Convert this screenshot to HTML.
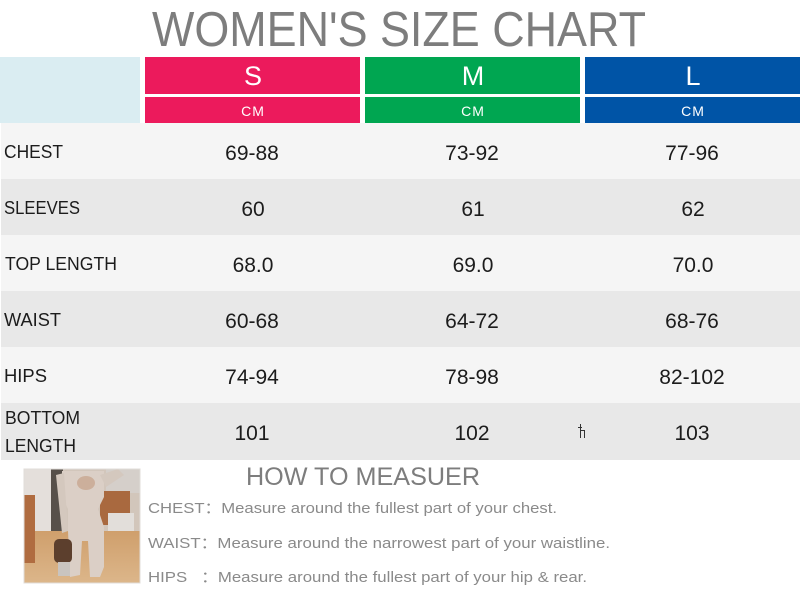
<!DOCTYPE html>
<html>
<head>
<meta charset="utf-8">
<style>
html,body{margin:0;padding:0;background:#fff;}
svg{display:block;}
text{font-family:"Liberation Sans","DejaVu Sans",sans-serif;}
</style>
</head>
<body>
<svg width="800" height="594" viewBox="0 0 800 594" xmlns="http://www.w3.org/2000/svg">
  <defs>
    <linearGradient id="floor" x1="0" y1="0" x2="0" y2="1">
      <stop offset="0" stop-color="#cf9f6c"/>
      <stop offset="1" stop-color="#dcb68a"/>
    </linearGradient>
  </defs>
  <rect x="0" y="0" width="800" height="594" fill="#ffffff"/>
  <!-- Title -->
  <text x="152" y="46" font-size="49" fill="#7d7d7d" textLength="494" lengthAdjust="spacingAndGlyphs">WOMEN'S SIZE CHART</text>

  <!-- Header -->
  <rect x="0" y="57" width="140" height="66" fill="#daedf2"/>
  <rect x="145" y="57" width="215" height="37" fill="#ec1a5c"/>
  <rect x="145" y="97" width="215" height="26" fill="#ec1a5c"/>
  <rect x="365" y="57" width="215" height="37" fill="#00a651"/>
  <rect x="365" y="97" width="215" height="26" fill="#00a651"/>
  <rect x="585" y="57" width="215" height="37" fill="#0054a6"/>
  <rect x="585" y="97" width="215" height="26" fill="#0054a6"/>
  <g fill="#ffffff" text-anchor="middle">
    <text x="253" y="85" font-size="27">S</text>
    <text x="473" y="85" font-size="27">M</text>
    <text x="693" y="85" font-size="27">L</text>
    <text x="253" y="116" font-size="14" letter-spacing="1">CM</text>
    <text x="473" y="116" font-size="14" letter-spacing="1">CM</text>
    <text x="693" y="116" font-size="14" letter-spacing="1">CM</text>
  </g>

  <!-- Rows -->
  <rect x="1" y="123" width="799" height="56" fill="#f5f5f5"/>
  <rect x="1" y="179" width="799" height="56" fill="#e8e8e8"/>
  <rect x="1" y="235" width="799" height="56" fill="#f5f5f5"/>
  <rect x="1" y="291" width="799" height="56" fill="#e8e8e8"/>
  <rect x="1" y="347" width="799" height="56" fill="#f5f5f5"/>
  <rect x="1" y="403" width="799" height="57" fill="#e8e8e8"/>

  <g fill="#1c1c1c" font-size="18">
    <text x="4" y="158" textLength="59" lengthAdjust="spacingAndGlyphs">CHEST</text>
    <text x="4" y="214" textLength="76" lengthAdjust="spacingAndGlyphs">SLEEVES</text>
    <text x="5" y="270" textLength="112" lengthAdjust="spacingAndGlyphs">TOP LENGTH</text>
    <text x="4" y="326" textLength="57" lengthAdjust="spacingAndGlyphs">WAIST</text>
    <text x="4" y="382" textLength="43" lengthAdjust="spacingAndGlyphs">HIPS</text>
    <text x="5" y="424" textLength="75" lengthAdjust="spacingAndGlyphs">BOTTOM</text>
    <text x="5" y="452" textLength="71" lengthAdjust="spacingAndGlyphs">LENGTH</text>
  </g>

  <g fill="#1c1c1c" font-size="21" text-anchor="middle">
    <text x="252" y="160">69-88</text>
    <text x="472" y="160">73-92</text>
    <text x="692" y="160">77-96</text>
    <text x="253" y="216">60</text>
    <text x="473" y="216">61</text>
    <text x="693" y="216">62</text>
    <text x="253" y="272">68.0</text>
    <text x="473" y="272">69.0</text>
    <text x="693" y="272">70.0</text>
    <text x="252" y="328">60-68</text>
    <text x="472" y="328">64-72</text>
    <text x="692" y="328">68-76</text>
    <text x="252" y="384">74-94</text>
    <text x="472" y="384">78-98</text>
    <text x="692" y="384">82-102</text>
    <text x="252" y="440">101</text>
    <text x="472" y="440">102</text>
    <text x="692" y="440">103</text>
  </g>
  <!-- small artifact mark -->
  <g stroke="#333" stroke-width="1" fill="none">
    <line x1="580.5" y1="424" x2="580.5" y2="438"/>
    <line x1="580" y1="430.5" x2="585" y2="430.5"/>
    <line x1="584.5" y1="430" x2="584.5" y2="438"/>
    <line x1="578" y1="427.5" x2="582" y2="427.5"/>
  </g>

  <!-- Photo -->
  <g transform="translate(24,469)">
    <rect x="0" y="0" width="116" height="114" fill="#d2c6bb"/>
    <rect x="0" y="0" width="28" height="90" fill="#e4dfdb"/>
    <rect x="27" y="0" width="12" height="72" fill="#57504a"/>
    <rect x="82" y="0" width="34" height="24" fill="#d5cfca"/>
    <rect x="0" y="62" width="116" height="52" fill="url(#floor)"/>
    <rect x="0" y="26" width="11" height="68" fill="#b06c40"/>
    <rect x="76" y="22" width="30" height="34" fill="#a9693f"/>
    <rect x="84" y="44" width="26" height="18" fill="#e2deda"/>
    <!-- figure -->
    <path d="M38 2 L80 2 L80 28 L74 40 L80 58 L80 98 L76 108 L66 108 L64 72 L58 72 L56 106 L46 108 L44 62 L44 40 L38 28 Z" fill="#dbcfc6"/>
    <path d="M32 6 L40 4 L44 62 L38 64 Z" fill="#d4c8be"/>
    <path d="M76 6 L94 0 L100 6 L82 18 Z" fill="#d4c8be"/>
    <ellipse cx="62" cy="14" rx="9" ry="7" fill="#ccaf9b"/>
    <rect x="30" y="70" width="18" height="24" rx="5" fill="#5c3f2d"/>
    <rect x="34" y="93" width="12" height="14" fill="#c9c4bf"/>
    <rect x="0" y="0" width="116" height="114" fill="none" stroke="#e0dcd8" stroke-width="1"/>
  </g>

  <!-- How to measure -->
  <text x="246" y="485" font-size="25" fill="#7d7d7d" textLength="234" lengthAdjust="spacingAndGlyphs">HOW TO MEASUER</text>
  <g fill="#8a8a8a" font-size="15" font-family="Liberation Sans, Noto Sans CJK SC, sans-serif">
    <text x="148" y="513" textLength="409" lengthAdjust="spacingAndGlyphs">CHEST：Measure around the fullest part of your chest.</text>
    <text x="148" y="548" textLength="462" lengthAdjust="spacingAndGlyphs">WAIST：Measure around the narrowest part of your waistline.</text>
    <text x="148" y="582" textLength="439" lengthAdjust="spacingAndGlyphs" xml:space="preserve">HIPS   ：Measure around the fullest part of your hip &amp; rear.</text>
  </g>
</svg>
</body>
</html>
